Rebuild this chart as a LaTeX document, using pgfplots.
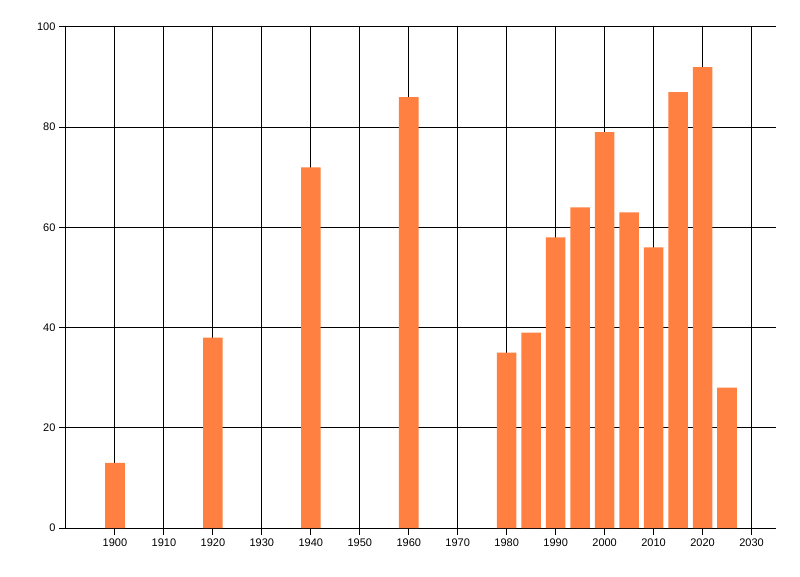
\documentclass[border=0pt]{standalone}
\usepackage{fontspec}
\setmainfont{Liberation Sans}
\usepackage{pgfplots}
\pgfplotsset{compat=1.18}
\definecolor{barorange}{RGB}{255,128,64}
\begin{document}
\fontsize{8.25}{10}\selectfont
\begin{tikzpicture}
\begin{axis}[
  at={(0,0)}, anchor=south west,
  scale only axis,
  width=532.5pt, height=375.75pt,
  xmin=1890, xmax=2035,
  ymin=0, ymax=100,
  axis x line*=bottom, axis y line*=left,
  x axis line style={-, line width=0.75pt},
  y axis line style={-, line width=0.75pt},
  xtick={1900,1910,...,2030},
  ytick={0,20,...,100},
  xticklabel style={/pgf/number format/1000 sep={}, font=\fontsize{8.25}{10}\selectfont},
  yticklabel style={font=\fontsize{8.25}{10}\selectfont},
  /pgf/number format/assume math mode=true,
  tick align=outside,
  major tick length=5pt,
  tick style={black, line width=0.75pt},
  xmajorgrids, ymajorgrids,
  major grid style={black, line width=0.75pt},
  clip=false,
]
\addplot[ybar, bar width=4, fill=barorange, draw=none] coordinates {
  (1900,13) (1920,38) (1940,72) (1960,86) (1980,35) (1985,39) (1990,58)
  (1995,64) (2000,79) (2005,63) (2010,56) (2015,87) (2020,92) (2025,28)
};
\end{axis}
\pgfresetboundingbox
\path (-49.5pt,-36pt) rectangle (550.5pt,396pt);
\end{tikzpicture}
\end{document}
